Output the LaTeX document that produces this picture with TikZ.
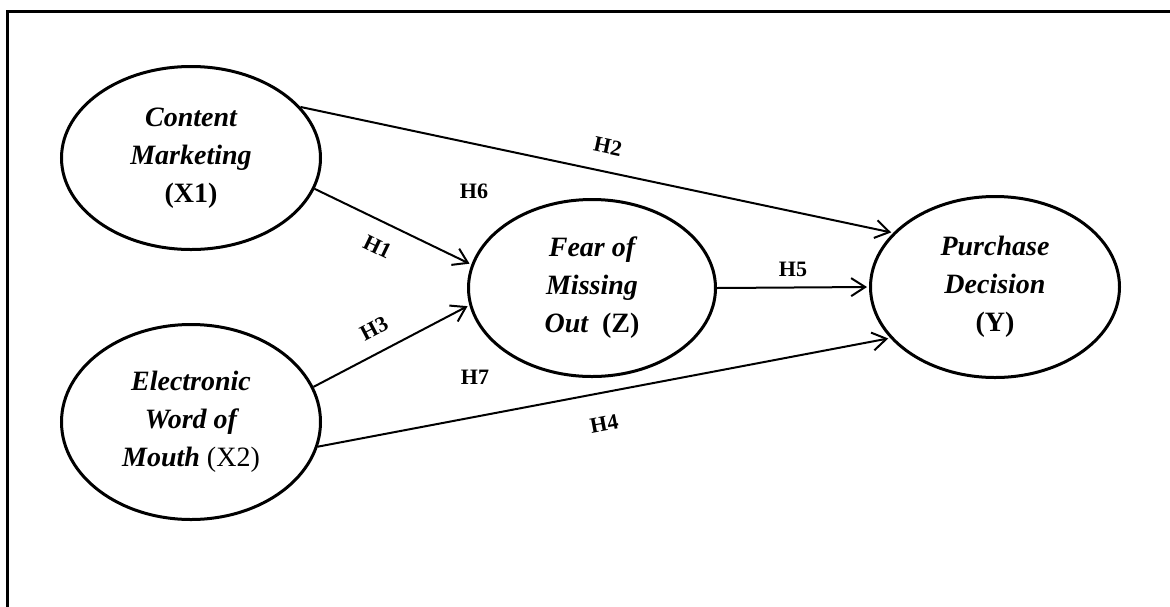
\documentclass[tikz,border=0pt]{standalone}
\usepackage{fontspec}
\setmainfont{Liberation Serif}
\usetikzlibrary{arrows.meta,shapes.geometric}

\begin{document}
\begin{tikzpicture}[x=1pt,y=-1pt,
  construct/.style={draw,line width=3pt,ellipse,inner sep=0pt,align=center,
    font=\fontsize{28}{38}\selectfont\bfseries\itshape},
  hyp/.style={line width=2pt,-{Straight Barb[length=14pt,width=18pt]},shorten >=2pt},
  hlabel/.style={inner sep=0pt,font=\fontsize{22}{22}\selectfont\bfseries}]
\useasboundingbox (0,0) rectangle (1170,606);
\draw[line width=2.2pt] (1175,11.5) -- (7.5,11.5) -- (7.5,612);

\node[construct,minimum width=259pt,minimum height=183pt] (cm) at (191,158)
    {Content\\Marketing\\\upshape(X1)};
\node[construct,minimum width=259pt,minimum height=195pt] (ewom) at (191,422)
    {Electronic\\Word of\\Mouth \upshape\mdseries(X2)};
\node[construct,minimum width=247pt,minimum height=177pt] (fomo) at (592,288)
    {Fear of\\Missing\\Out~~\upshape(Z)};
\node[construct,minimum width=249pt,minimum height=181pt] (pd) at (995,287)
    {Purchase\\Decision\\\upshape(Y)};

\draw[hyp] (cm.25) -- node[hlabel,sloped,above=17pt,pos=0.51] (h2) {H2} (pd.152);
\draw[hyp] (cm.-14) -- node[hlabel,sloped,below=16.5pt,pos=0.47] (h1) {H1} (fomo.169);
\draw[hyp] (ewom.16) -- node[hlabel,sloped,above=15.5pt,pos=0.46] (h3) {H3} (fomo.188);
\draw[hyp] (ewom.-11) -- node[hlabel,sloped,below=23pt,pos=0.49] (h4) {H4} (pd.206);
\draw[hyp] (fomo.east) -- node[hlabel,above=9.5pt] (h5) {H5} (pd.west);

\node[hlabel] (h6) at (474,191) {H6};
\node[hlabel] (h7) at (475,377) {H7};
\end{tikzpicture}
\end{document}
